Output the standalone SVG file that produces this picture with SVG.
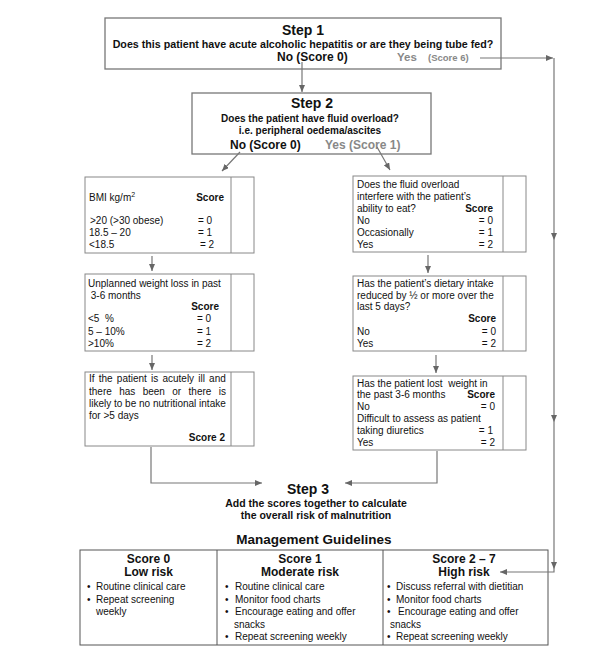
<svg xmlns="http://www.w3.org/2000/svg" width="598" height="650" viewBox="0 0 598 650">
<defs>
<marker id="ah" markerUnits="userSpaceOnUse" markerWidth="7" markerHeight="6" refX="7" refY="3" orient="auto"><path d="M0,0 L7,3 L0,6 z" fill="#666"/></marker>
<style>
text{font-family:"Liberation Sans",Arial,sans-serif;fill:#111;font-size:10px}
.b{font-weight:bold}
.c{text-anchor:middle}
.e{text-anchor:end}
.g{fill:#888}
.box{fill:none;stroke:#888;stroke-width:1}
.sbox{fill:none;stroke:#777;stroke-width:1.3}
.tb{fill:none;stroke:#555;stroke-width:1}
.ln{fill:none;stroke:#777;stroke-width:1.2;marker-end:url(#ah)}
</style>
</defs>
<rect width="598" height="650" fill="#fff"/>

<g id="step1">
<rect class="sbox" x="105" y="18" width="396" height="51"/>
<text class="b c" x="303" y="35" style="font-size:14px">Step 1</text>
<text class="b c" x="303" y="47.5" style="font-size:10.7px">Does this patient have acute alcoholic hepatitis or are they being tube fed?</text>
<text class="b" x="277" y="61" style="font-size:12px">No (Score 0)</text>
<text class="b g" x="397" y="61" style="font-size:11.5px">Yes</text>
<text class="b g" x="428" y="61" style="font-size:9.5px">(Score 6)</text>
</g>

<g id="step2">
<rect class="sbox" x="192" y="93" width="239" height="61"/>
<text class="b c" x="312" y="108" style="font-size:14px">Step 2</text>
<text class="b c" x="310" y="122" style="font-size:10px">Does the patient have fluid overload?</text>
<text class="b c" x="310" y="133.5" style="font-size:10px">i.e. peripheral oedema/ascites</text>
<text class="b" x="230" y="149" style="font-size:12px">No (Score 0)</text>
<text class="b g" x="325" y="149" style="font-size:12px">Yes (Score 1)</text>
</g>

<g id="bmi">
<rect class="box" x="85" y="177" width="169" height="76"/>
<line x1="231" y1="177" x2="231" y2="253" stroke="#888"/>
<text x="89" y="201">BMI kg/m<tspan dy="-4" style="font-size:7px">2</tspan></text>
<text class="b e" x="224" y="201">Score</text>
<text x="90" y="223.5">&gt;20 (&gt;30 obese)</text><text x="198" y="223.5">= 0</text>
<text x="89" y="236">18.5 – 20</text><text x="198" y="236">= 1</text>
<text x="89" y="248">&lt;18.5</text><text x="200" y="248">= 2</text>
</g>

<g id="weightloss">
<rect class="box" x="85" y="274" width="169" height="77"/>
<line x1="231" y1="274" x2="231" y2="351" stroke="#888"/>
<text x="88" y="286.5">Unplanned weight loss in past</text>
<text x="88" y="298.5" style="white-space:pre"> 3-6 months</text>
<text class="b e" x="219" y="310">Score</text>
<text x="88" y="322" style="white-space:pre">&lt;5  %</text><text x="197" y="322">= 0</text>
<text x="88" y="334.5">5 – 10%</text><text x="197" y="334.5">= 1</text>
<text x="88" y="346.5">&gt;10%</text><text x="197" y="346.5">= 2</text>
</g>

<g id="acute">
<rect class="box" x="85" y="372" width="169" height="74"/>
<line x1="231" y1="372" x2="231" y2="446" stroke="#888"/>
<text x="89" y="382" style="word-spacing:1.4px">If the patient is acutely ill and</text>
<text x="89" y="394.5" style="word-spacing:4.6px">there has been or there is</text>
<text x="89" y="406.5">likely to be no nutritional intake</text>
<text x="89" y="418.5">for &gt;5 days</text>
<text class="b e" x="225" y="440.5">Score 2</text>
</g>

<g id="fluid">
<rect class="box" x="353" y="176" width="173" height="76"/>
<line x1="503" y1="176" x2="503" y2="252" stroke="#888"/>
<text x="357" y="188">Does the fluid overload</text>
<text x="357" y="200">interfere with the patient’s</text>
<text x="357" y="211.5">ability to eat?</text><text class="b e" x="493" y="211.5">Score</text>
<text x="357" y="224">No</text><text class="e" x="493" y="224">= 0</text>
<text x="357" y="236">Occasionally</text><text class="e" x="493" y="236">= 1</text>
<text x="357" y="248">Yes</text><text class="e" x="493" y="248">= 2</text>
</g>

<g id="dietary">
<rect class="box" x="353" y="276" width="173" height="75"/>
<line x1="503" y1="276" x2="503" y2="351" stroke="#888"/>
<text x="357" y="287">Has the patient’s dietary intake</text>
<text x="357" y="298.5">reduced by ½ or more over the</text>
<text x="357" y="310">last 5 days?</text>
<text class="b e" x="496" y="322">Score</text>
<text x="357" y="334.5">No</text><text class="e" x="496" y="334.5">= 0</text>
<text x="357" y="346.5">Yes</text><text class="e" x="496" y="346.5">= 2</text>
</g>

<g id="lostweight">
<rect class="box" x="353" y="376" width="173" height="74"/>
<line x1="503" y1="376" x2="503" y2="450" stroke="#888"/>
<text x="357" y="386.5" style="white-space:pre">Has the patient lost  weight in</text>
<text x="357" y="398">the past 3-6 months</text><text class="b e" x="495" y="398">Score</text>
<text x="357" y="409.5">No</text><text class="e" x="495" y="409.5">= 0</text>
<text x="357" y="421.5">Difficult to assess as patient</text>
<text x="357" y="434">taking diuretics</text><text class="e" x="493" y="434">= 1</text>
<text x="357" y="446">Yes</text><text class="e" x="495" y="446">= 2</text>
</g>

<g id="step3">
<text class="b c" x="308" y="494" style="font-size:14px">Step 3</text>
<text class="b c" x="316" y="507" style="font-size:10.5px">Add the scores together to calculate</text>
<text class="b c" x="316" y="519" style="font-size:10.5px">the overall risk of malnutrition</text>
</g>

<g id="guidelines">
<text class="b c" x="314" y="544" style="font-size:13.5px">Management Guidelines</text>
<rect class="tb" x="80" y="550" width="468" height="95"/>
<line x1="217" y1="550" x2="217" y2="645" stroke="#555"/>
<line x1="383" y1="550" x2="383" y2="645" stroke="#555"/>
<text class="b c" x="148.5" y="563" style="font-size:12px">Score 0</text>
<text class="b c" x="148.5" y="576" style="font-size:12px">Low risk</text>
<text x="87" y="590">•</text><text x="96" y="590">Routine clinical care</text>
<text x="87" y="602.5">•</text><text x="96" y="602.5">Repeat screening</text>
<text x="96" y="615">weekly</text>
<text class="b c" x="300" y="563" style="font-size:12px">Score 1</text>
<text class="b c" x="300" y="576" style="font-size:12px">Moderate risk</text>
<text x="225" y="590">•</text><text x="235" y="590">Routine clinical care</text>
<text x="225" y="602.5">•</text><text x="235" y="602.5">Monitor food charts</text>
<text x="225" y="615">•</text><text x="235" y="615">Encourage eating and offer</text>
<text x="234" y="627.5">snacks</text>
<text x="225" y="640">•</text><text x="235" y="640">Repeat screening weekly</text>
<text class="b c" x="464" y="563" style="font-size:12px">Score 2 – 7</text>
<text class="b c" x="464" y="576" style="font-size:12px">High risk</text>
<text x="387" y="590">•</text><text x="396" y="590">Discuss referral with dietitian</text>
<text x="387" y="602.5">•</text><text x="396" y="602.5">Monitor food charts</text>
<text x="387" y="615">•</text><text x="398" y="615">Encourage eating and offer</text>
<text x="390" y="627.5">snacks</text>
<text x="387" y="640">•</text><text x="396" y="640">Repeat screening weekly</text>
</g>

<g id="connectors">
<path class="ln" d="M302,62 V92"/>
<path class="ln" d="M240,152 L222,171"/>
<path class="ln" d="M377,147 L390,170"/>
<path class="ln" d="M152,256 V271"/>
<path class="ln" d="M152,355 V370"/>
<path class="ln" d="M428,255 V273"/>
<path class="ln" d="M436,355 V373"/>
<path class="ln" d="M151,447 V483 H262"/>
<path class="ln" d="M437,451 V483 H345"/>
<path class="ln" d="M480,58 H553"/>
<path class="ln" d="M554,58 V240"/>
<path class="ln" d="M554,240 V422"/>
<path class="ln" d="M554,422 V569"/>
<path class="ln" d="M554,569 V572 H500"/>
</g>
</svg>
